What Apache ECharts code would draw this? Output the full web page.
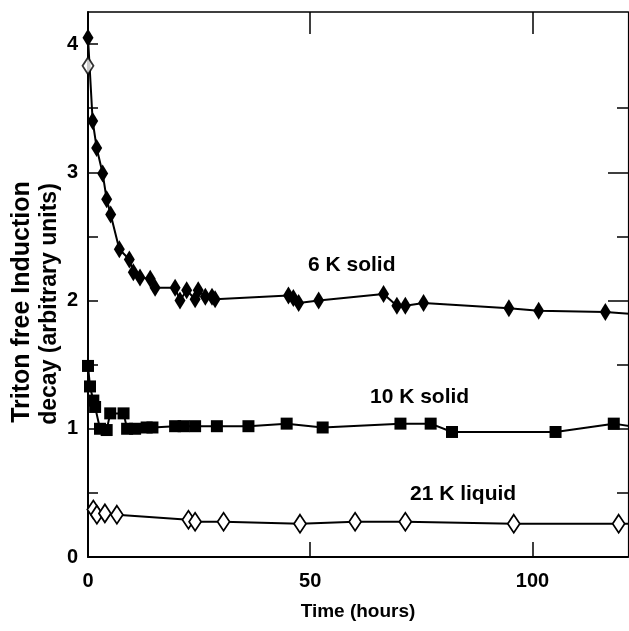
<!DOCTYPE html>
<html>
<head>
<meta charset="utf-8">
<title>Triton free induction decay</title>
<script src="https://cdn.jsdelivr.net/npm/echarts@6/dist/echarts.min.js"></script>
<style>
  html, body { margin: 0; padding: 0; background: #fff; }
  #chart { width: 629px; height: 631px; }
</style>
</head>
<body>
<div id="chart"></div>
<script>
// [time (hours), signal]
const solid6K = [
  [0, 4.05], [1.05, 3.40], [1.95, 3.19], [3.3, 2.99], [4.2, 2.79], [5.1, 2.67],
  [7.05, 2.40], [9.3, 2.32], [10.2, 2.22], [11.7, 2.18], [14.0, 2.17], [15.1, 2.10],
  [19.6, 2.10], [20.7, 2.00], [22.2, 2.08], [24.1, 2.01], [24.8, 2.08], [26.4, 2.03],
  [27.9, 2.03], [28.6, 2.01], [45.1, 2.04], [46.2, 2.02], [47.4, 1.98], [51.9, 2.00],
  [66.5, 2.05], [69.5, 1.96], [71.4, 1.96], [75.5, 1.98], [94.7, 1.94], [101.4, 1.92],
  [116.4, 1.91], [124, 1.89]
];
const solid10K = [
  [0, 1.49], [0.45, 1.33], [1.2, 1.22], [1.6, 1.17], [2.7, 1.00], [4.2, 0.99],
  [5.0, 1.12], [8.0, 1.12], [8.8, 1.00], [10.6, 1.00], [13.2, 1.01], [14.5, 1.01],
  [19.6, 1.02], [21.5, 1.02], [24.1, 1.02], [29.0, 1.02], [36.1, 1.02], [44.7, 1.04],
  [52.8, 1.01], [70.3, 1.04], [77.1, 1.04], [81.9, 0.975], [105.2, 0.975], [118.3, 1.04],
  [124, 1.01]
];
const liquid21K = [
  [1.2, 0.37], [2.0, 0.33], [3.8, 0.34], [6.5, 0.33], [22.6, 0.29], [24.1, 0.275],
  [30.5, 0.275], [47.7, 0.26], [60.1, 0.275], [71.4, 0.275], [95.8, 0.26], [119.4, 0.26],
  [124, 0.26]
];
// open diamond at t = 0
const liquidStart = [[0, 3.83]];

const xTicks = [0, 50, 100];
const yTicks = [0, 1, 2, 3, 4];
const yHalfTicks = [0.5, 1.5, 2.5, 3.5];
const xMax = 121.5;
const yMax = 4.25;

const font = '"Liberation Sans", Arial, Helvetica, sans-serif';
const black = '#000';

const chart = echarts.init(document.getElementById('chart'));

const tickLabel = {
  color: black,
  fontFamily: font,
  fontWeight: 'bold',
  fontSize: 20
};

// the second grid sits on top of the first and only carries the short right-hand ticks
const plotBox = { left: 88, right: 1, top: 12, bottom: 74 };

const option = {
  animation: false,
  backgroundColor: '#fff',
  grid: [Object.assign({}, plotBox), Object.assign({}, plotBox)],
  xAxis: [
    {
      gridIndex: 0, type: 'value', position: 'bottom', min: 0, max: xMax, interval: 50,
      axisLine: { onZero: false, lineStyle: { color: black, width: 2 } },
      axisTick: { inside: true, length: 15, customValues: xTicks.slice(1), lineStyle: { color: black, width: 1.5 } },
      axisLabel: Object.assign({ margin: 14, customValues: xTicks }, tickLabel),
      splitLine: { show: false },
      name: 'Time (hours)', nameLocation: 'middle', nameGap: 45,
      nameTextStyle: { color: black, fontFamily: font, fontWeight: 'bold', fontSize: 19 }
    },
    {
      gridIndex: 0, type: 'value', position: 'top', min: 0, max: xMax, interval: 50,
      axisLine: { onZero: false, lineStyle: { color: black, width: 1.5 } },
      axisTick: { inside: true, length: 22, customValues: xTicks.slice(1), lineStyle: { color: black, width: 1.5 } },
      axisLabel: { show: false },
      splitLine: { show: false }
    },
    {
      gridIndex: 1, type: 'value', min: 0, max: xMax, show: false
    }
  ],
  yAxis: [
    {
      gridIndex: 0, type: 'value', position: 'left', min: 0, max: yMax, interval: 0.5,
      axisLine: { onZero: false, lineStyle: { color: black, width: 2 } },
      axisTick: { inside: true, length: 10, customValues: yTicks.concat(yHalfTicks), lineStyle: { color: black, width: 1.5 } },
      axisLabel: Object.assign({ margin: 10, customValues: yTicks }, tickLabel),
      splitLine: { show: false }
    },
    {
      gridIndex: 0, type: 'value', position: 'right', min: 0, max: yMax, interval: 1,
      axisLine: { onZero: false, lineStyle: { color: black, width: 1.2 } },
      axisTick: { inside: true, length: 20, customValues: [1, 2, 3], lineStyle: { color: black, width: 1.5 } },
      axisLabel: { show: false },
      splitLine: { show: false }
    },
    {
      gridIndex: 1, type: 'value', position: 'right', min: 0, max: yMax, interval: 0.5,
      axisLine: { show: false, onZero: false },
      axisTick: { inside: true, length: 11, customValues: yHalfTicks, lineStyle: { color: black, width: 1.5 } },
      axisLabel: { show: false },
      splitLine: { show: false }
    }
  ],
  series: [
    {
      name: '6 K solid', type: 'line', data: solid6K,
      symbol: 'diamond', symbolSize: [11, 18], showAllSymbol: true,
      itemStyle: { color: black },
      lineStyle: { color: black, width: 2 }
    },
    {
      name: '10 K solid', type: 'line', data: solid10K,
      symbol: 'rect', symbolSize: 12, showAllSymbol: true,
      itemStyle: { color: black },
      lineStyle: { color: black, width: 2 }
    },
    {
      name: '21 K liquid', type: 'line', data: liquid21K,
      symbol: 'diamond', symbolSize: [12, 18], showAllSymbol: true,
      itemStyle: { color: '#fff', borderColor: black, borderWidth: 1.8 },
      lineStyle: { color: black, width: 2 }
    },
    {
      name: '21 K liquid, t = 0', type: 'scatter', data: liquidStart,
      symbol: 'diamond', symbolSize: [11, 17], z: 3,
      itemStyle: { color: '#fff', borderColor: black, borderWidth: 1.8 }
    }
  ],
  graphic: [
    {
      type: 'text', x: 22, y: 302, rotation: Math.PI / 2,
      style: { text: 'Triton free Induction', fill: black, font: 'bold 25px ' + font, textAlign: 'center', textVerticalAlign: 'middle' }
    },
    {
      type: 'text', x: 50, y: 304, rotation: Math.PI / 2,
      style: { text: 'decay (arbitrary units)', fill: black, font: 'bold 23px ' + font, textAlign: 'center', textVerticalAlign: 'middle' }
    },
    {
      type: 'text', x: 308, y: 265,
      style: { text: '6 K solid', fill: black, font: 'bold 21px ' + font, textAlign: 'left', textVerticalAlign: 'middle' }
    },
    {
      type: 'text', x: 370, y: 397,
      style: { text: '10 K solid', fill: black, font: 'bold 21px ' + font, textAlign: 'left', textVerticalAlign: 'middle' }
    },
    {
      type: 'text', x: 410, y: 494,
      style: { text: '21 K liquid', fill: black, font: 'bold 21px ' + font, textAlign: 'left', textVerticalAlign: 'middle' }
    }
  ]
};

chart.setOption(option);
</script>
</body>
</html>
